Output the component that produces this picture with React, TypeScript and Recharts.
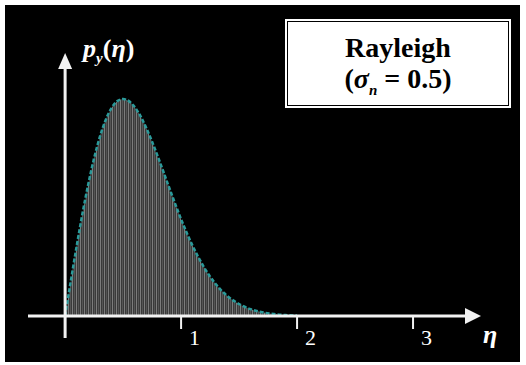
import { AreaChart, Area, XAxis, YAxis, ReferenceLine, ReferenceDot } from "recharts";

// Rayleigh density, sigma = 0.5
const etaValues = [
  0, 0.05, 0.1, 0.15, 0.2, 0.25, 0.3, 0.35, 0.4, 0.45, 0.5, 0.55, 0.6, 0.65, 0.7, 0.75, 0.8,
  0.85, 0.9, 0.95, 1.0, 1.1, 1.2, 1.3, 1.4, 1.5, 1.6, 1.7, 1.8, 1.9, 2.0,
];
const densityValues = [
  0, 0.199, 0.392, 0.574, 0.738, 0.882, 1.002, 1.096, 1.162, 1.201, 1.213, 1.201, 1.168,
  1.117, 1.051, 0.974, 0.89, 0.802, 0.713, 0.625, 0.541, 0.391, 0.27, 0.177, 0.111, 0.067,
  0.038, 0.021, 0.011, 0.005, 0.003,
];
const xTicks = [1, 2, 3];

const data = etaValues.map((eta, i) => ({ eta, p: densityValues[i] }));

const X_DOMAIN = [-0.32, 3.586];
const Y_DOMAIN = [-0.123, 1.47];
const AXIS = "#f2f2f2";
const SERIF = "Liberation Serif, DejaVu Serif, Times New Roman, serif";

function HorizontalAxis(props: any) {
  const { x1, x2, y1 } = props;
  const left = Math.min(x1, x2);
  const right = Math.max(x1, x2);
  return (
    <g>
      <line x1={left} y1={y1} x2={right - 12} y2={y1} stroke={AXIS} strokeWidth={3} />
      <polygon points={`${right},${y1} ${right - 16},${y1 - 8} ${right - 16},${y1 + 8}`} fill={AXIS} />
      <text
        x={right + 2}
        y={y1 + 27}
        fill="#fff"
        style={{ fontFamily: SERIF, fontStyle: "italic", fontWeight: "bold", fontSize: 26 }}
      >
        η
      </text>
    </g>
  );
}

function VerticalAxis(props: any) {
  const { x1, y1, y2 } = props;
  const top = Math.min(y1, y2);
  const bottom = Math.max(y1, y2);
  return (
    <g>
      <line x1={x1} y1={bottom} x2={x1} y2={top + 12} stroke={AXIS} strokeWidth={3} />
      <polygon points={`${x1},${top} ${x1 - 7},${top + 16} ${x1 + 7},${top + 16}`} fill={AXIS} />
      <text x={x1 + 18} y={top + 4} fill="#fff" style={{ fontFamily: SERIF, fontWeight: "bold", fontSize: 26 }}>
        <tspan fontStyle="italic">p</tspan>
        <tspan fontStyle="italic" fontSize={15} dy={6}>
          y
        </tspan>
        <tspan dy={-6}>(</tspan>
        <tspan fontStyle="italic">η</tspan>
        <tspan>)</tspan>
      </text>
    </g>
  );
}

function TickMark(props: any) {
  const { cx, cy, label } = props;
  return (
    <g>
      <line x1={cx} y1={cy} x2={cx} y2={cy + 13} stroke={AXIS} strokeWidth={2} />
      <text x={cx + 8} y={cy + 29} fill="#fff" style={{ fontFamily: SERIF, fontSize: 22 }}>
        {label}
      </text>
    </g>
  );
}

export default function App() {
  return (
    <div style={{ position: "absolute", left: 0, top: 0, width: 526, height: 365, background: "#fff" }}>
      <div style={{ position: "absolute", left: 5, top: 5, width: 515, height: 357, background: "#000" }} />
      <div style={{ position: "absolute", left: 0, top: 0 }}>
        <AreaChart width={526} height={365} data={data} margin={{ top: 53, right: 45, bottom: 27, left: 28 }}>
          <defs>
            <pattern id="stripes" patternUnits="userSpaceOnUse" width={4} height={10}>
              <rect x={0} y={0} width={4} height={10} fill="#3a3a3a" />
              <rect x={0} y={0} width={1} height={10} fill="#7c7c7c" />
              <rect x={2} y={0} width={1} height={10} fill="#555" />
            </pattern>
          </defs>
          <XAxis dataKey="eta" type="number" domain={X_DOMAIN} allowDataOverflow hide />
          <YAxis type="number" domain={Y_DOMAIN} allowDataOverflow hide />
          <Area
            type="monotone"
            dataKey="p"
            baseValue={0}
            stroke="#2a9a9a"
            strokeWidth={2.5}
            strokeDasharray="4 2"
            fill="url(#stripes)"
            fillOpacity={1}
            dot={false}
            activeDot={false}
            isAnimationActive={false}
          />
          <ReferenceLine y={0} shape={HorizontalAxis} />
          <ReferenceLine x={0} shape={VerticalAxis} />
          {xTicks.map((t) => (
            <ReferenceDot key={t} x={t} y={0} shape={(p: any) => <TickMark {...p} label={t} />} />
          ))}
        </AreaChart>
      </div>
      <div
        style={{
          position: "absolute",
          left: 285,
          top: 19,
          width: 226,
          height: 89,
          boxSizing: "border-box",
          background: "#fff",
          padding: 2,
        }}
      >
        <div
          style={{
            boxSizing: "border-box",
            width: "100%",
            height: "100%",
            border: "1.5px solid #000",
            background: "#fff",
            fontFamily: SERIF,
            fontWeight: "bold",
            fontSize: 28,
            lineHeight: "31px",
            textAlign: "center",
            paddingTop: 10,
            color: "#000",
          }}
        >
          <div>Rayleigh</div>
          <div>
            (<i>σ</i>
            <sub style={{ fontSize: 15, fontStyle: "italic", lineHeight: 0 }}>n</sub> = 0.5)
          </div>
        </div>
      </div>
    </div>
  );
}
